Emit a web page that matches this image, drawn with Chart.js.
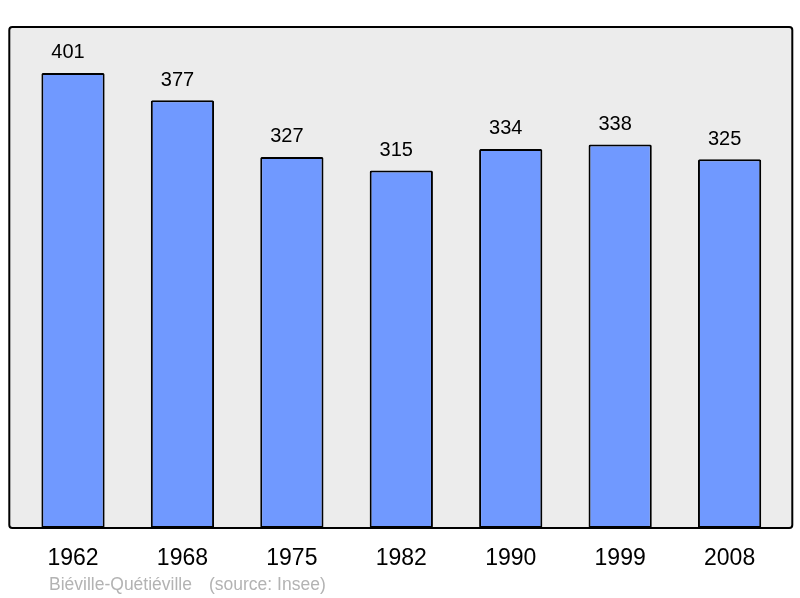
<!DOCTYPE html>
<html><head><meta charset="utf-8">
<script src="https://cdn.jsdelivr.net/npm/chart.js@4/dist/chart.umd.min.js"></script>
<style>html,body{margin:0;padding:0;background:#fff}#wrap{width:800px;height:598px}</style>
</head><body><div id="wrap"><canvas id="c" width="800" height="598"></canvas></div>
<script>
const years = ["1962","1968","1975","1982","1990","1999","2008"];
const population = [401,377,327,315,334,338,325];
const townName = "Biéville-Quétiéville";
const sourceName = "(source: Insee)";

const framePlugin = {
  id:'frame',
  beforeDatasetsDraw(chart){
    const {ctx, chartArea:a} = chart;
    const x0=a.left-9, x1=a.right+8, y0=a.top, y1=a.bottom;
    ctx.save();
    ctx.beginPath();
    if (ctx.roundRect) ctx.roundRect(x0,y0,x1-x0,y1-y0,3); else ctx.rect(x0,y0,x1-x0,y1-y0);
    ctx.fillStyle='#ececec'; ctx.fill();
    ctx.restore();
  },
  afterDatasetsDraw(chart){
    const {ctx, chartArea:a} = chart;
    const x0=a.left-9, x1=a.right+8, y0=a.top, y1=a.bottom;
    ctx.save();
    ctx.beginPath();
    if (ctx.roundRect) ctx.roundRect(x0,y0,x1-x0,y1-y0,3); else ctx.rect(x0,y0,x1-x0,y1-y0);
    ctx.lineWidth=2; ctx.strokeStyle='#000'; ctx.stroke();
    const meta = chart.getDatasetMeta(0);
    ctx.fillStyle='#000'; ctx.textAlign='center'; ctx.textBaseline='alphabetic';
    ctx.font='20px "Liberation Sans", Arial, sans-serif';
    meta.data.forEach((bar,i)=>{ ctx.fillText(String(population[i]), bar.x-5, bar.y-14.5); });
    const xs = chart.scales.x;
    ctx.font='23px "Liberation Sans", Arial, sans-serif';
    years.forEach((y,i)=>{ ctx.fillText(y, xs.getPixelForValue(i), 565); });
    ctx.textAlign='left';
    ctx.fillStyle='#b3b3b3';
    ctx.font='17.5px "Liberation Sans", Arial, sans-serif';
    ctx.fillText(townName, 49, 590);
    ctx.fillText(sourceName, 209, 590);
    ctx.restore();
  }
};

new Chart(document.getElementById('c'), {
  type:'bar',
  data:{labels:years, datasets:[{data:population, backgroundColor:'#7099ff', borderColor:'#000', borderWidth:2, borderSkipped:false, borderRadius:1.5, barPercentage:0.578, categoryPercentage:1}]},
  options:{
    responsive:false, animation:false, devicePixelRatio:1,
    layout:{padding:{left:18.3, right:15.7, top:27, bottom:70}},
    plugins:{legend:{display:false}, tooltip:{enabled:false}},
    scales:{
      x:{display:false, offset:true},
      y:{display:false, min:0, max:441.5}
    }
  },
  plugins:[framePlugin]
});
</script></body></html>
